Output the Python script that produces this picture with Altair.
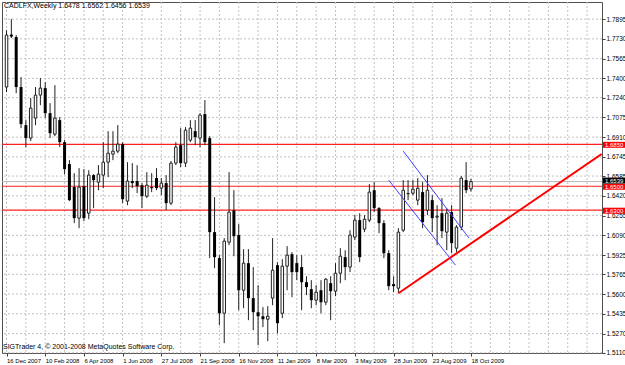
import altair as alt
import pandas as pd

# ---------------- data ----------------
OPEN = [1.7328,1.7766,1.7745,1.7328,1.7010,1.6902,1.7069,1.7261,1.7319,1.7110,
        1.6935,1.7052,1.6868,1.6685,1.6493,1.6234,1.6501,1.6275,1.6593,1.6534,
        1.6593,1.6701,1.6768,1.6793,1.6852,1.6376,1.6543,1.6543,1.6509,1.6417,
        1.6493,1.6568,1.6484,1.6526,1.6359,1.6693,1.6843,1.6693,1.6885,1.6960,
        1.6902,1.7102,1.6902,1.6117,1.5900,1.5440,1.6033,1.6300,1.6092,1.5632,
        1.5858,1.5566,1.5449,1.5415,1.5390,1.5566,1.5841,1.5440,1.5833,1.5933,
        1.5858,1.5825,1.5699,1.5641,1.5549,1.5632,1.5532,1.5691,1.5624,1.5774,
        1.5908,1.5825,1.6075,1.6217,1.6142,1.6217,1.6467,1.6317,1.6192,1.5941,
        1.5683,1.5649,1.6133,1.6442,1.6442,1.6384,1.6451,1.6300,1.6384,1.6242,
        1.6275,1.6117,1.6284,1.5983,1.6159,1.6551,1.6478]
HIGH = [1.7803,1.7895,1.7762,1.7411,1.7052,1.7236,1.7328,1.7403,1.7369,1.7194,
        1.7344,1.7077,1.6885,1.6718,1.6609,1.6651,1.6643,1.6634,1.6601,1.6676,
        1.6868,1.6960,1.6960,1.7010,1.6868,1.6701,1.6693,1.6676,1.6526,1.6618,
        1.6609,1.6651,1.6568,1.6593,1.6710,1.6868,1.6985,1.6994,1.7052,1.7052,
        1.7110,1.7219,1.6918,1.6409,1.5925,1.6067,1.6618,1.6467,1.6184,1.5975,
        1.5975,1.5825,1.5674,1.5491,1.5499,1.6067,1.5866,1.5891,1.6000,1.5950,
        1.5925,1.5925,1.5749,1.5716,1.5674,1.5716,1.5733,1.5749,1.5858,1.5983,
        1.5966,1.6133,1.6259,1.6275,1.6259,1.6518,1.6534,1.6326,1.6217,1.5966,
        1.5749,1.6150,1.6551,1.6551,1.6551,1.6568,1.6534,1.6593,1.6426,1.6342,
        1.6401,1.6317,1.6342,1.6175,1.6584,1.6701,1.6562]
LOW = [1.7286,1.7737,1.7277,1.6985,1.6827,1.6877,1.7010,1.7177,1.7069,1.6902,
       1.6918,1.6827,1.6601,1.6376,1.6192,1.6150,1.6209,1.6225,1.6317,1.6467,
       1.6484,1.6576,1.6718,1.6776,1.6359,1.6342,1.6484,1.6442,1.6317,1.6401,
       1.6451,1.6467,1.6426,1.6300,1.6342,1.6676,1.6660,1.6660,1.6868,1.6843,
       1.6827,1.6843,1.5900,1.5816,1.5340,1.5190,1.6008,1.5916,1.5465,1.5482,
       1.5382,1.5298,1.5173,1.5324,1.5207,1.5507,1.5273,1.5399,1.5632,1.5574,
       1.5716,1.5465,1.5591,1.5482,1.5507,1.5440,1.5507,1.5382,1.5582,1.5691,
       1.5716,1.5783,1.6050,1.5866,1.6117,1.6200,1.6284,1.6108,1.5900,1.5632,
       1.5616,1.5607,1.6117,1.6384,1.6426,1.6342,1.6150,1.6259,1.6117,1.6008,
       1.6067,1.5966,1.5941,1.5950,1.6133,1.6442,1.6456]
CLOSE = [1.7762,1.7749,1.7328,1.7019,1.6902,1.7152,1.7261,1.7319,1.7110,1.6943,
         1.7069,1.6868,1.6643,1.6384,1.6234,1.6493,1.6234,1.6593,1.6551,1.6601,
         1.6701,1.6776,1.6793,1.6852,1.6392,1.6543,1.6526,1.6501,1.6417,1.6509,
         1.6484,1.6484,1.6526,1.6359,1.6693,1.6827,1.6693,1.6968,1.6985,1.6910,
         1.7094,1.6868,1.6117,1.5908,1.5440,1.6042,1.6284,1.6083,1.5632,1.5858,
         1.5566,1.5449,1.5415,1.5390,1.5415,1.5799,1.5357,1.5833,1.5925,1.5783,
         1.5783,1.5699,1.5658,1.5549,1.5616,1.5532,1.5724,1.5624,1.5774,1.5916,
         1.5825,1.6092,1.6217,1.5908,1.6225,1.6451,1.6317,1.6192,1.5941,1.5666,
         1.5666,1.6117,1.6467,1.6434,1.6476,1.6484,1.6200,1.6467,1.6234,1.6250,
         1.6125,1.6275,1.6025,1.6159,1.6568,1.6467,1.6539]

X_LABELS = ["16 Dec 2007", "10 Feb 2008", "6 Apr 2008", "1 Jun 2008", "27 Jul 2008",
            "21 Sep 2008", "16 Nov 2008", "11 Jan 2009", "8 Mar 2009", "3 May 2009",
            "28 Jun 2009", "23 Aug 2009", "18 Oct 2009"]
X_LABEL_WEEKS = [0, 8, 16, 24, 32, 40, 48, 56, 64, 72, 80, 88, 96]
GRID_WEEKS = [0, 4, 8, 12, 16, 20, 24, 28, 32, 36, 40, 44, 48, 52, 56, 60, 64, 68,
              72, 76, 80, 84, 88, 92, 96, 100, 104, 108, 112, 116, 120]
Y_TICKS = [1.7895, 1.7730, 1.7565, 1.7400, 1.7240, 1.7075, 1.6910, 1.6745, 1.6585,
           1.6420, 1.6255, 1.6090, 1.5925, 1.5765, 1.5600, 1.5435, 1.5270, 1.5110]

LEVELS = [1.6850, 1.6500, 1.6300]
LAST_PRICE = 1.6539

TREND_WEEK = [81, 123]
TREND_PRICE = [1.5607, 1.6769]
CH_UP_WEEK = [82.0, 95.6]
CH_UP_PRICE = [1.6793, 1.6067]
CH_LO_WEEK = [79.0, 92.8]
CH_LO_PRICE = [1.6551, 1.5841]

HEADER = "CADLFX,Weekly  1.6478 1.6562 1.6456 1.6539"
FOOTER = "SIGTrader 4, \u00a9 2001-2008 MetaQuotes Software Corp."

# ---------------- tables ----------------
candles = pd.DataFrame({"week": list(range(len(OPEN))), "open": OPEN, "high": HIGH,
                        "low": LOW, "close": CLOSE})
candles["bull"] = candles["close"] >= candles["open"]
bull = candles[candles["bull"]]
bear = candles[~candles["bull"]]

FONT = "Liberation Sans"
xs = alt.Scale(domain=[0.1, 122.05], nice=False, zero=False)
ys = alt.Scale(domain=[1.5108, 1.8038], nice=False, zero=False)

label_expr = "[" + ",".join("'%s'" % s for s in X_LABELS) + "][round(datum.value/8)]"
xaxis = alt.Axis(values=X_LABEL_WEEKS, labelExpr=label_expr, grid=False, domain=False,
                 tickSize=3, tickColor="#404040", labelAlign="left", labelBaseline="top",
                 labelPadding=1, labelFontSize=6, labelFont=FONT, labelColor="black",
                 labelOverlap=False, labelBound=False, labelFlush=False, title=None)
yaxis = alt.Axis(orient="right", values=Y_TICKS, format=".4f", grid=False, domain=False,
                 tickSize=3, tickColor="#404040", labelPadding=1, labelFontSize=6.5,
                 labelFont=FONT, labelColor="black", labelBaseline="middle",
                 labelOverlap=False, labelBound=False, labelFlush=False, title=None)


def X(f):
    return alt.X(f, type="quantitative", scale=xs, axis=xaxis)


def Y(f):
    return alt.Y(f, type="quantitative", scale=ys, axis=yaxis)


grid_x = alt.Chart(pd.DataFrame({"week": GRID_WEEKS})).mark_rule(
    color="#c8c0c0", strokeDash=[2, 2], strokeWidth=1).encode(x=X("week"))
grid_y = alt.Chart(pd.DataFrame({"price": Y_TICKS})).mark_rule(
    color="#c8c0c0", strokeDash=[2, 2], strokeWidth=1).encode(y=Y("price"))

last_line = alt.Chart(pd.DataFrame({"price": [LAST_PRICE]})).mark_rule(
    color="#b8b8b8", strokeWidth=1).encode(y=Y("price"))
levels = alt.Chart(pd.DataFrame({"price": LEVELS})).mark_rule(
    color="#ff2020", strokeWidth=1.2).encode(y=Y("price"))

wicks = alt.Chart(candles).mark_rule(color="#202020", strokeWidth=1, clip=True).encode(
    x=X("week"), y=Y("low"), y2="high")
bear_body = alt.Chart(bear).mark_bar(size=3, color="black", clip=True).encode(
    x=X("week"), y=Y("open"), y2="close")
bull_body = alt.Chart(bull).mark_bar(size=2.5, fill="white", stroke="#202020",
                                     strokeWidth=1, clip=True).encode(
    x=X("week"), y=Y("open"), y2="close")

trend = alt.Chart(pd.DataFrame({"week": TREND_WEEK, "price": TREND_PRICE})).mark_line(
    color="#ff0000", strokeWidth=2, clip=True).encode(x=X("week"), y=Y("price"))
ch_up = alt.Chart(pd.DataFrame({"week": CH_UP_WEEK, "price": CH_UP_PRICE})).mark_line(
    color="#4040ff", strokeWidth=1, clip=True).encode(x=X("week"), y=Y("price"))
ch_lo = alt.Chart(pd.DataFrame({"week": CH_LO_WEEK, "price": CH_LO_PRICE})).mark_line(
    color="#4040ff", strokeWidth=1, clip=True).encode(x=X("week"), y=Y("price"))

lev_df = pd.DataFrame({"price": LEVELS, "label": ["%.4f" % v for v in LEVELS]})
last_df = pd.DataFrame({"price": [LAST_PRICE], "label": ["%.4f" % LAST_PRICE]})

lev_boxes = alt.Chart(lev_df).mark_rect(yOffset=-2.5, y2Offset=3.5, color="#ff0000").encode(
    x=alt.value(601), x2=alt.value(623), y=Y("price"), y2="price")
lev_text = alt.Chart(lev_df).mark_text(
    align="left", baseline="middle", color="white", fontSize=6, font=FONT, dy=0.5).encode(
    x=alt.value(603), y=Y("price"), text="label:N")
last_box = alt.Chart(last_df).mark_rect(yOffset=-4, y2Offset=2, color="#000000").encode(
    x=alt.value(601), x2=alt.value(623), y=Y("price"), y2="price")
last_text = alt.Chart(last_df).mark_text(
    align="left", baseline="middle", color="white", fontSize=6, font=FONT, dy=-1).encode(
    x=alt.value(603), y=Y("price"), text="label:N")

header = alt.Chart(pd.DataFrame({"t": [HEADER]})).mark_text(
    align="left", baseline="middle", fontSize=7, font=FONT, color="black").encode(
    x=alt.value(2), y=alt.value(4), text="t:N")
footer = alt.Chart(pd.DataFrame({"t": [FOOTER]})).mark_text(
    align="left", baseline="middle", fontSize=7, font=FONT, color="black").encode(
    x=alt.value(1), y=alt.value(345), text="t:N")

chart = alt.layer(
    grid_x, grid_y, last_line, levels, wicks, bear_body, bull_body,
    trend, ch_up, ch_lo, lev_boxes, lev_text, last_box, last_text, header, footer
).properties(
    width=600, height=351,
    padding={"left": 2, "top": 2, "right": 23, "bottom": 12},
    autosize=alt.AutoSizeParams(type="none"),
    background="white",
).configure_view(stroke="#505050", strokeWidth=1)

chart.save("out.html", embed_options={"renderer": "svg", "actions": False})
